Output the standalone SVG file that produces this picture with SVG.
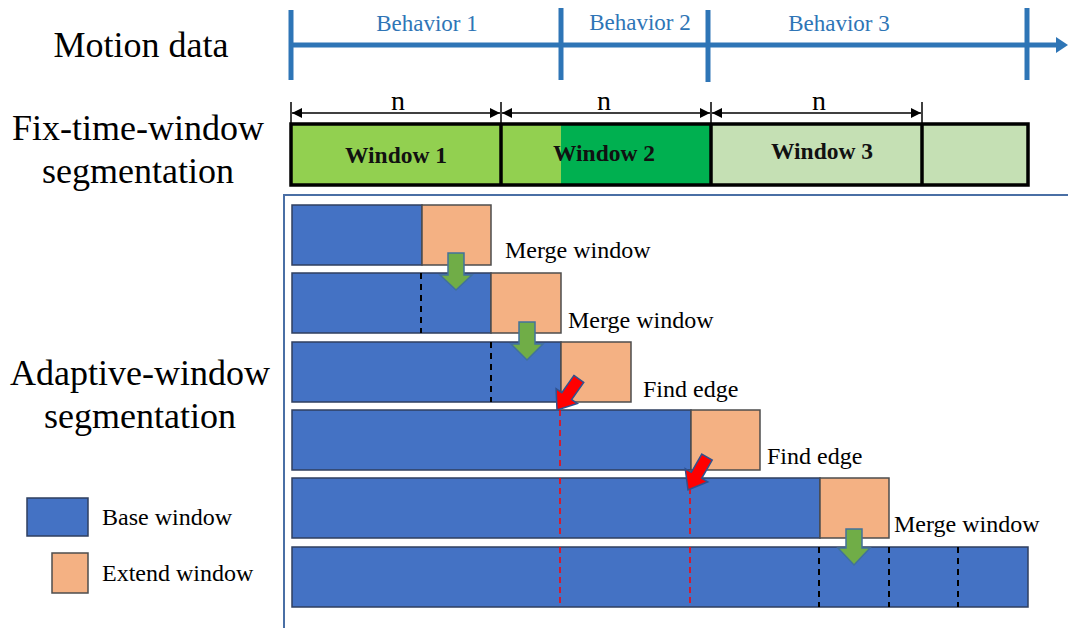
<svg xmlns="http://www.w3.org/2000/svg" width="1068" height="628" viewBox="0 0 1068 628">
<defs>
<style>
.serif{font-family:"Liberation Serif","Times New Roman",serif;}
.lbl{font-size:36px;fill:#000;text-anchor:middle;}
.beh{font-size:23px;fill:#2e75b6;text-anchor:middle;}
.win{font-size:23.5px;font-weight:bold;fill:#111;text-anchor:middle;}
.n{font-size:28px;fill:#000;text-anchor:middle;}
.step{font-size:24px;fill:#000;}
.axis{stroke:#2e75b6;stroke-width:5;fill:none;}
.fw{stroke:#000;stroke-width:3.5;}
.base{fill:#4472c4;stroke:#2f3f5f;stroke-width:1.5;}
.ext{fill:#f4b183;stroke:#4d4d4d;stroke-width:1.5;}
.bd{stroke:#000;stroke-width:2;stroke-dasharray:6 5;}
.rd{stroke:#ff0000;stroke-width:1.5;stroke-dasharray:6 4;}
.garrow{fill:#70ad47;stroke:#41719c;stroke-width:1.5;}
.rarrow{fill:#ff0000;stroke:#2f528f;stroke-width:1.5;}
.dim{stroke:#000;stroke-width:1.5;}
</style>
<marker id="dimhead" viewBox="0 0 10 10" refX="10" refY="5" markerWidth="10" markerHeight="10" markerUnits="userSpaceOnUse" orient="auto-start-reverse">
<path d="M0,0 L10,5 L0,10 Z" fill="#000"/>
</marker>
</defs>
<rect width="1068" height="628" fill="#fff"/>

<!-- Left labels -->
<g id="labels" class="serif">
<text class="lbl" x="141" y="57">Motion data</text>
<text class="lbl" x="138" y="140">Fix-time-window</text>
<text class="lbl" x="138" y="183">segmentation</text>
<text class="lbl" x="140" y="385">Adaptive-window</text>
<text class="lbl" x="140" y="428">segmentation</text>
</g>

<!-- Motion data axis -->
<g id="motion-axis">
<line class="axis" x1="291" y1="45" x2="1058" y2="45"/>
<path d="M1056,37 L1068,45 L1056,53 Z" fill="#2e75b6"/>
<line class="axis" x1="291" y1="10" x2="291" y2="80"/>
<line class="axis" x1="561" y1="8" x2="561" y2="80"/>
<line class="axis" x1="708" y1="10" x2="708" y2="82"/>
<line class="axis" x1="1027" y1="8" x2="1027" y2="80"/>
<text class="serif beh" x="427" y="31">Behavior 1</text>
<text class="serif beh" x="640" y="30">Behavior 2</text>
<text class="serif beh" x="839" y="31">Behavior 3</text>
</g>

<!-- Fixed windows -->
<g id="fixed-windows">
<rect x="291" y="124" width="210" height="61" fill="#92d050"/>
<rect x="501" y="124" width="60" height="61" fill="#92d050"/>
<rect x="561" y="124" width="150" height="61" fill="#00b050"/>
<rect x="711" y="124" width="211" height="61" fill="#c5e0b4"/>
<rect x="922" y="124" width="106" height="61" fill="#c5e0b4"/>
<rect class="fw" x="291" y="124" width="737" height="61" fill="none"/>
<line class="fw" x1="501" y1="124" x2="501" y2="185"/>
<line class="fw" x1="711" y1="124" x2="711" y2="185"/>
<line class="fw" x1="922" y1="124" x2="922" y2="185"/>
<text class="serif win" x="396" y="163">Window 1</text>
<text class="serif win" x="604" y="161">Window 2</text>
<text class="serif win" x="822" y="159">Window 3</text>
</g>

<!-- Dimension lines -->
<g id="dimensions">
<line class="dim" x1="291" y1="102" x2="291" y2="124" stroke-width="2.5"/>
<line class="dim" x1="501" y1="102" x2="501" y2="124" stroke-width="2.5"/>
<line class="dim" x1="711" y1="102" x2="711" y2="124" stroke-width="2.5"/>
<line class="dim" x1="922" y1="102" x2="922" y2="124" stroke-width="2.5"/>
<line class="dim" x1="292" y1="113" x2="500" y2="113" marker-start="url(#dimhead)" marker-end="url(#dimhead)"/>
<line class="dim" x1="502" y1="113" x2="710" y2="113" marker-start="url(#dimhead)" marker-end="url(#dimhead)"/>
<line class="dim" x1="712" y1="113" x2="921" y2="113" marker-start="url(#dimhead)" marker-end="url(#dimhead)"/>
<text class="serif n" x="398" y="110">n</text>
<text class="serif n" x="604" y="110">n</text>
<text class="serif n" x="819" y="110">n</text>
</g>

<!-- Panel border -->
<g id="panel">
<line x1="283" y1="195" x2="1068" y2="195" stroke="#4a6fa5" stroke-width="2"/>
<line x1="284" y1="195" x2="284" y2="628" stroke="#4a6fa5" stroke-width="2"/>
</g>

<!-- Adaptive rows -->
<g id="row1">
<rect class="base" x="292" y="205" width="130" height="60"/>
<rect class="ext" x="422" y="205" width="69" height="60"/>
</g>
<g id="row2">
<rect class="base" x="292" y="273" width="199" height="60"/>
<line class="bd" x1="421" y1="273" x2="421" y2="333"/>
<rect class="ext" x="491" y="273" width="70" height="60"/>
</g>
<g id="row3">
<rect class="base" x="292" y="342" width="269" height="60"/>
<line class="bd" x1="491" y1="342" x2="491" y2="402"/>
<rect class="ext" x="561" y="342" width="70" height="60"/>
</g>
<g id="row4">
<rect class="base" x="292" y="410" width="399" height="60"/>
<line class="rd" x1="560" y1="410" x2="560" y2="470"/>
<rect class="ext" x="691" y="410" width="69" height="60"/>
</g>
<g id="row5">
<rect class="base" x="292" y="478" width="528" height="60"/>
<line class="rd" x1="560" y1="478" x2="560" y2="538"/>
<line class="rd" x1="690" y1="478" x2="690" y2="538"/>
<rect class="ext" x="820" y="478" width="69" height="60"/>
</g>
<g id="row6">
<rect class="base" x="292" y="547" width="736" height="60"/>
<line class="rd" x1="560" y1="547" x2="560" y2="607"/>
<line class="rd" x1="690" y1="547" x2="690" y2="607"/>
<line class="bd" x1="819" y1="547" x2="819" y2="607"/>
<line class="bd" x1="889" y1="547" x2="889" y2="607"/>
<line class="bd" x1="958" y1="547" x2="958" y2="607"/>
</g>

<!-- Step arrows -->
<g id="connectors">
<path class="garrow" d="M448,253 L464,253 L464,275 L472,275 L456,290 L440,275 L448,275 Z"/>
<path class="garrow" d="M519,322 L535,322 L535,344 L543,344 L527,360 L511,344 L519,344 Z"/>
<path class="garrow" d="M846,529 L862,529 L862,548 L870,548 L854,565 L838,548 L846,548 Z"/>
<path class="rarrow" transform="translate(557,410) rotate(35)" d="M-6,-38 L6,-38 L6,-17 L13,-17 L0,0 L-13,-17 L-6,-17 Z"/>
<path class="rarrow" transform="translate(688,490) rotate(30)" d="M-6,-38 L6,-38 L6,-17 L13,-17 L0,0 L-13,-17 L-6,-17 Z"/>
</g>

<g id="step-labels" class="serif">
<text class="step" x="505" y="258">Merge window</text>
<text class="step" x="568" y="328">Merge window</text>
<text class="step" x="643" y="397">Find edge</text>
<text class="step" x="767" y="464">Find edge</text>
<text class="step" x="894" y="532">Merge window</text>
</g>

<!-- Legend -->
<g id="legend" class="serif">
<rect class="base" x="27" y="498" width="61" height="38"/>
<text class="step" x="102" y="525">Base window</text>
<rect class="ext" x="52" y="553" width="36" height="40"/>
<text class="step" x="102" y="581">Extend window</text>
</g>
</svg>
